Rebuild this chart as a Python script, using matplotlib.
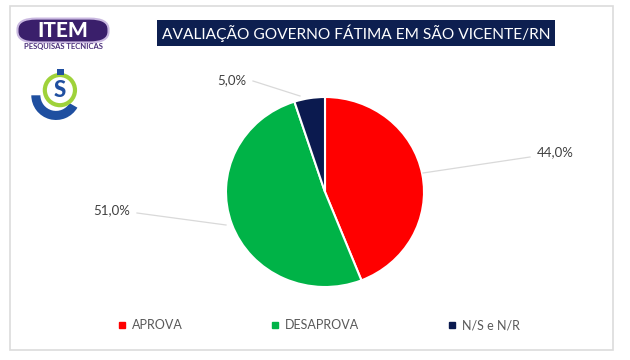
import matplotlib
matplotlib.use("Agg")
import matplotlib.pyplot as plt
from matplotlib.patches import FancyBboxPatch, Rectangle, Circle, Wedge
from matplotlib.lines import Line2D

# data
categorias = ["APROVA", "DESAPROVA", "N/S e N/R"]
valores = [44.0, 51.0, 5.0]
rotulos = ["44,0%", "51,0%", "5,0%"]
cores = ["#ff0000", "#00b347", "#0b1a4f"]
titulo = "AVALIAÇÃO GOVERNO FÁTIMA EM SÃO VICENTE/RN"

W, H = 630, 360
fig = plt.figure(figsize=(W / 100, H / 100), dpi=100)
fig.patch.set_facecolor("white")
plt.rcParams["font.family"] = ["Lato", "DejaVu Sans"]


def fx(x):
    return x / W


def fy(y):
    return 1 - y / H


# outer card border
fig.patches.append(Rectangle((fx(10), fy(350)), fx(603), 344 / H, transform=fig.transFigure,
                             fill=False, edgecolor="#dcdcdc", linewidth=1.2))

# title box
fig.patches.append(Rectangle((fx(157), fy(46)), fx(398), 26 / H, transform=fig.transFigure,
                             facecolor="#0d1f50", edgecolor="none"))
fig.text(fx(356), fy(33), titulo, color="white", fontsize=11.2, ha="center", va="center")

# ITEM logo
fig.patches.append(FancyBboxPatch((fx(20), fy(41)), fx(86), 21 / H, transform=fig.transFigure,
                                  boxstyle="round,pad=0.004,rounding_size=0.03",
                                  facecolor="#3a1f6b", edgecolor="#c9b8e0", linewidth=1.5))
fig.text(fx(63), fy(30.5), "ITEM", color="white", fontsize=15, fontweight="black",
         ha="center", va="center")
fig.text(fx(63), fy(47), "PESQUISAS TECNICAS", color="#4a2f7a", fontsize=5.5,
         fontweight="bold", ha="center", va="center")

# small S logo
lax = fig.add_axes([fx(30), fy(120), fx(52), 52 / H])
lax.set_xlim(-1, 1)
lax.set_ylim(-1, 1)
lax.set_aspect("equal")
lax.axis("off")
lax.add_patch(Wedge((0.0, -0.05), 0.95, 180, 330, width=0.35, facecolor="#1f4fa0"))
lax.add_patch(Circle((0.15, 0.15), 0.58, facecolor="white", edgecolor="#9fd23a", linewidth=3))
lax.add_patch(Rectangle((0.05, 0.72), 0.25, 0.26, facecolor="#1f4fa0"))
lax.text(0.15, 0.12, "S", color="#1f4fa0", fontsize=16, fontweight="black", ha="center", va="center")

# pie
cx, cy, rx, ry = 325, 192, 99, 95
ax = fig.add_axes([fx(cx - rx), fy(cy + ry), 2 * rx / W, 2 * ry / H])
ax.pie(valores, colors=cores, startangle=90, counterclock=False,
       wedgeprops=dict(edgecolor="white", linewidth=1.5))
ax.set_aspect("auto")
ax.set_xlim(-1, 1)
ax.set_ylim(-1, 1)

# labels with leader lines (positions in pixels)
lab_pos = [(555, 152), (112, 210), (232, 80)]
line_from = [(530, 157), (137, 213), (253, 81)]
line_to = [(423, 173), (226, 225), (300, 96)]
for r, (tx, ty), (x0, y0), (x1, y1) in zip(rotulos, lab_pos, line_from, line_to):
    fig.text(fx(tx), fy(ty), r, color="#404040", fontsize=9.5, ha="center", va="center")
    fig.lines.append(Line2D([fx(x0), fx(x1)], [fy(y0), fy(y1)], transform=fig.transFigure,
                            color="#d9d9d9", linewidth=0.9))

# legend
handles = [Line2D([], [], marker="s", linestyle="none", markersize=5,
                  markerfacecolor=c, markeredgecolor=c) for c in cores]
leg = fig.legend(handles, categorias, loc="center", bbox_to_anchor=(fx(318), fy(325)),
                 ncol=3, frameon=False, fontsize=9, columnspacing=7.0,
                 handlelength=0.8, handletextpad=0.4, labelcolor="#595959")

fig.savefig("out.png", dpi=100, facecolor="white")
